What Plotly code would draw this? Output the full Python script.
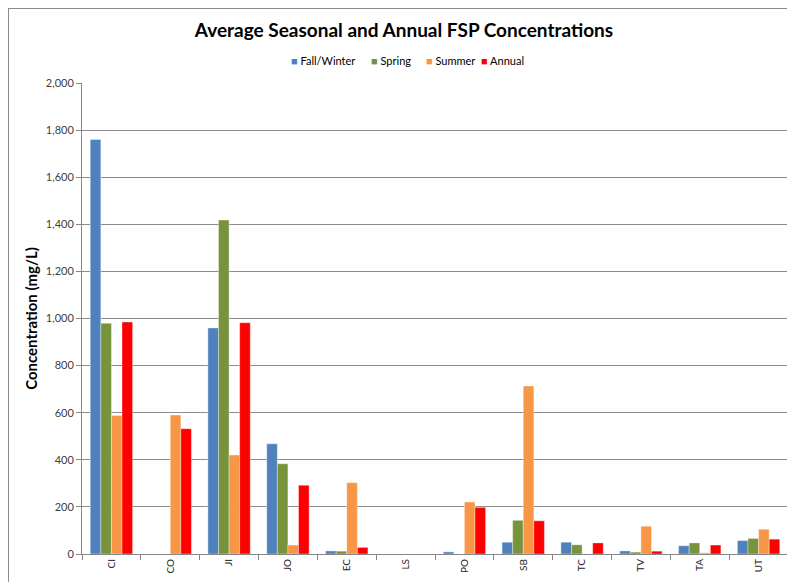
import plotly.graph_objects as go

sites = ["CI", "CO", "JI", "JO", "EC", "LS", "PO", "SB", "TC", "TV", "TA", "UT"]

fall_winter = [1760, 0, 960, 468, 13, 0, 9, 50, 50, 13, 35, 57]
spring = [980, 0, 1418, 383, 12, 0, 0, 143, 39, 8, 47, 66]
summer = [588, 590, 420, 38, 303, 0, 221, 713, 0, 118, 5, 105]
annual = [985, 532, 982, 292, 28, 0, 198, 141, 47, 12, 38, 63]

series = [
    ("Fall/Winter", fall_winter, "#4F81BD"),
    ("Spring", spring, "#77933C"),
    ("Summer", summer, "#F79646"),
    ("Annual", annual, "#FF0000"),
]

# page has an 8px body margin, so the figure is a bit smaller than the window
W, H = 787, 574
L, R, T, B = 74, 7, 75, 28
pw, ph = W - L - R, H - T - B


def px_x(x):
    return (x - L) / pw


def px_y(y):
    return (H - B - y) / ph


fig = go.Figure()
for name, vals, col in series:
    fig.add_trace(go.Bar(
        x=sites, y=vals, name=name, showlegend=False,
        marker=dict(color=col, line=dict(width=0.6, color="rgba(255,255,255,0.6)")),
    ))

fig.update_layout(
    width=W, height=H,
    margin=dict(l=L, r=R, t=T, b=B),
    paper_bgcolor="white", plot_bgcolor="white",
    font=dict(family="Lato, Open Sans, sans-serif", size=11, color="#404040"),
    title=dict(
        text="<b>Average Seasonal and Annual FSP Concentrations</b>",
        xref="container", x=396 / W, xanchor="center",
        yref="container", y=1 - 22 / H, yanchor="middle",
        font=dict(size=19, color="black"),
    ),
    barmode="group", bargap=0.28, bargroupgap=0,
)

# legend drawn as annotations so the entries sit as tight as in the original
leg_x = [281, 361, 416, 471]
for (name, vals, col), lx in zip(series, leg_x):
    fig.add_annotation(
        xref="paper", yref="paper", x=px_x(lx), y=px_y(52),
        xanchor="left", yanchor="middle", showarrow=False,
        text=f"<span style='color:{col}'>■</span> {name}",
        font=dict(size=11, color="black"),
    )

fig.update_xaxes(
    tickangle=-90, tickson="boundaries", ticks="outside", ticklen=5,
    tickcolor="#868686", showline=True, linecolor="#868686", linewidth=1,
    tickfont=dict(size=10, color="#222222"),
)
fig.update_yaxes(
    range=[0, 2000], dtick=200, tickformat=",d",
    showgrid=True, gridcolor="#8C8C8C", gridwidth=1,
    showline=True, linecolor="#868686", linewidth=1,
    ticks="outside", ticklen=5, tickcolor="#868686",
    tickfont=dict(size=11, color="#404040"),
    title=dict(text="<b>Concentration (mg/L)</b>", font=dict(size=15, color="black"), standoff=4),
    zeroline=False,
)

# outer chart frame
fig.add_shape(
    type="rect", xref="paper", yref="paper",
    x0=px_x(0), x1=px_x(W + 20), y0=px_y(H + 20), y1=px_y(0),
    line=dict(color="#8C8C8C", width=2), fillcolor="rgba(0,0,0,0)",
    layer="below",
)

fig.write_html("out.html")
